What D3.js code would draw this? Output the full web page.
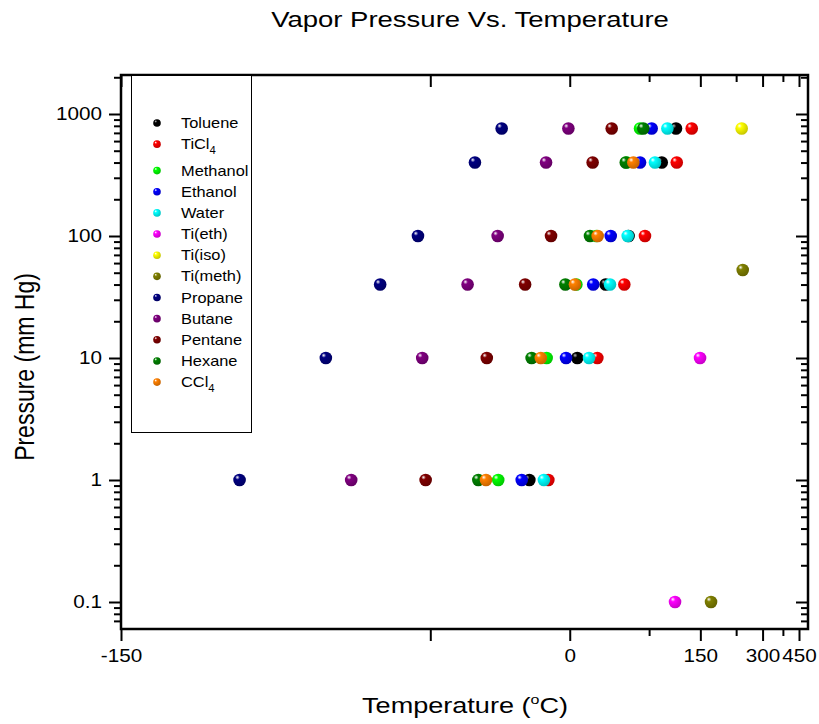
<!DOCTYPE html>
<html>
<head>
<meta charset="utf-8">
<script src="https://cdn.jsdelivr.net/npm/d3@7"></script>
<style>
  body { margin: 0; background: #fff; }
  text { font-family: "Liberation Sans", Arial, sans-serif; }
</style>
</head>
<body>
<div id="chart"></div>
<script>
// series, in legend / draw order
var seriesNames = ["Toluene", "TiCl4", "Methanol", "Ethanol", "Water", "Ti(eth)", "Ti(iso)",
  "Ti(meth)", "Propane", "Butane", "Pentane", "Hexane", "CCl4"];
var seriesColors = ["#000000", "#ff0000", "#00ff00", "#0000ff", "#00ffff", "#ff00ff", "#ffff00",
  "#808000", "#000080", "#800080", "#800000", "#008000", "#ff8000"];

// [temperature (C), pressure (mm Hg)]
var toluene  = [[-27.0, 1], [5.7, 10], [29.5, 40], [51.9, 100], [90.9, 400], [110.7, 760]];
var ticl4    = [[-15.0, 1], [22.1, 10], [47.5, 40], [70.1, 100], [111.8, 400], [135.2, 760]];
var methanol = [[-44.4, 1], [-16.1, 10], [5.0, 40], [21.2, 100], [49.9, 400], [64.4, 760]];
var ethanol  = [[-31.5, 1], [-2.7, 10], [18.6, 40], [34.2, 100], [64.4, 400], [78.1, 760]];
var water    = [[-17.9, 1], [15.1, 10], [33.5, 40], [51.0, 100], [82.2, 400], [98.5, 760]];
var tiEth    = [[109.3, 0.1], [149.5, 10]];
var tiIso    = [[239.0, 760]];
var tiMeth   = [[169.9, 0.1], [241.8, 52.6]];
var propane  = [[-129.1, 1], [-108.8, 10], [-92.8, 40], [-79.7, 100], [-55.9, 400], [-42.6, 760]];
var butane   = [[-101.7, 1], [-78.1, 10], [-59.3, 40], [-44.7, 100], [-16.5, 400], [-1.0, 760]];
var pentane  = [[-76.8, 1], [-50.2, 10], [-29.5, 40], [-13.2, 100], [18.1, 400], [35.1, 760]];
var hexane   = [[-54.3, 1], [-25.6, 10], [-3.2, 40], [15.9, 100], [49.0, 400], [68.1, 760]];
var ccl4     = [[-50.6, 1], [-19.9, 10], [3.9, 40], [22.4, 100], [57.0, 400]];

var seriesData = [toluene, ticl4, methanol, ethanol, water, tiEth, tiIso, tiMeth,
  propane, butane, pentane, hexane, ccl4];

var xMajor = [-150, -75, 0, 150, 300, 450];
var xLabels = ["-150", "", "0", "150", "300", "450"];
var xMinor = [75, 225, 375];
var yMajor = [0.1, 1, 10, 100, 1000];
var yLabels = ["0.1", "1", "10", "100", "1000"];

var svgWidth = 819;
var svgHeight = 724;
var frame = { left: 121, right: 808, top: 75, bottom: 629 };
var wide = 1.15; // text in the original is drawn a bit wider than tall

var svg = d3.select("#chart")
  .append("svg")
  .attr("width", svgWidth)
  .attr("height", svgHeight);

// offset reciprocal scale: position is linear in -1/(T + 273.15)
var recip = function(t) { return -1 / (t + 273.15); };
var xu = d3.scaleLinear()
  .domain([recip(-150), recip(450)])
  .range([121, 799]);
var x = function(t) { return xu(recip(t)); };

var y = d3.scaleLog()
  .domain([0.1, 1000])
  .range([602, 114]);

var yMinor = [];
[0.01, 0.1, 1, 10, 100, 1000].forEach(function(dec) {
  for (var k = 2; k <= 9; k++) {
    var v = dec * k;
    if (y(v) >= frame.top && y(v) <= frame.bottom) yMinor.push(v);
  }
});

// gradients for the shaded balls
var defs = svg.append("defs");
seriesColors.forEach(function(c, i) {
  var g = defs.append("radialGradient")
    .attr("id", "ball" + i)
    .attr("cx", "38%").attr("cy", "35%").attr("r", "65%")
    .attr("fx", "32%").attr("fy", "28%");
  var hi = c === "#000000" ? "#bbbbbb" : "#ffffff";
  g.append("stop").attr("offset", "0%").attr("stop-color", hi);
  g.append("stop").attr("offset", "28%").attr("stop-color", c);
  g.append("stop").attr("offset", "100%").attr("stop-color", d3.color(c).darker(0.7));
});

// axes
function styleAxis(g) {
  g.select(".domain").remove();
  g.selectAll(".tick line").attr("stroke", "#000").attr("stroke-width", 2);
  g.selectAll(".tick text").attr("fill", "#000").attr("font-size", "18px")
    .attr("font-family", "'Liberation Sans', Arial, sans-serif")
    .attr("transform", `scale(${wide},1)`);
}

svg.append("g")
  .attr("transform", `translate(0, ${frame.bottom})`)
  .call(d3.axisBottom(xu).tickValues(xMajor.map(recip)).tickSize(12).tickPadding(8)
    .tickFormat(function(d, i) { return xLabels[i]; }))
  .call(styleAxis);
svg.append("g")
  .attr("transform", `translate(0, ${frame.bottom})`)
  .call(d3.axisBottom(xu).tickValues(xMinor.map(recip)).tickSize(7).tickFormat(""))
  .call(styleAxis);
svg.append("g")
  .attr("transform", `translate(0, ${frame.top})`)
  .call(d3.axisBottom(xu).tickValues(xMajor.map(recip)).tickSize(12).tickFormat(""))
  .call(styleAxis);
svg.append("g")
  .attr("transform", `translate(0, ${frame.top})`)
  .call(d3.axisBottom(xu).tickValues(xMinor.map(recip)).tickSize(7).tickFormat(""))
  .call(styleAxis);

svg.append("g")
  .attr("transform", `translate(${frame.left}, 0)`)
  .call(d3.axisLeft(y).tickValues(yMajor).tickSize(12).tickPadding(7)
    .tickFormat(function(d, i) { return yLabels[i]; }))
  .call(styleAxis)
  .selectAll(".tick text").attr("x", -19 / wide);
svg.append("g")
  .attr("transform", `translate(${frame.left}, 0)`)
  .call(d3.axisLeft(y).tickValues(yMinor).tickSize(7).tickFormat(""))
  .call(styleAxis);
svg.append("g")
  .attr("transform", `translate(${frame.right}, 0)`)
  .call(d3.axisLeft(y).tickValues(yMajor).tickSize(12).tickFormat(""))
  .call(styleAxis);
svg.append("g")
  .attr("transform", `translate(${frame.right}, 0)`)
  .call(d3.axisLeft(y).tickValues(yMinor).tickSize(7).tickFormat(""))
  .call(styleAxis);

svg.append("rect")
  .attr("x", frame.left)
  .attr("y", frame.top)
  .attr("width", frame.right - frame.left)
  .attr("height", frame.bottom - frame.top)
  .attr("fill", "none")
  .attr("stroke", "#000")
  .attr("stroke-width", 2.5);

// points
seriesData.forEach(function(pts, i) {
  svg.append("g").selectAll("circle")
    .data(pts)
    .enter()
    .append("circle")
    .attr("cx", d => x(d[0]))
    .attr("cy", d => y(d[1]))
    .attr("r", 6.3)
    .attr("fill", "url(#ball" + i + ")");
});

// legend
var legend = svg.append("g");
legend.append("rect")
  .attr("x", 131.5).attr("y", 75.5)
  .attr("width", 120).attr("height", 357)
  .attr("fill", "#fff")
  .attr("stroke", "#000")
  .attr("stroke-width", 1);

seriesNames.forEach(function(name, i) {
  var ly = 124 + i * 21.15 + (i >= 2 ? 4.3 : -1);
  legend.append("circle")
    .attr("cx", 157).attr("cy", ly).attr("r", 3.8)
    .attr("fill", "url(#ball" + i + ")");
  var t = legend.append("text")
    .attr("transform", `translate(181, ${ly + 5}) scale(1.13,1)`)
    .attr("font-size", "14.5px")
    .attr("fill", "#000");
  var m = name.match(/^(.*?)(\d)$/);
  if (m) {
    t.append("tspan").text(m[1]);
    t.append("tspan").attr("dy", 5).attr("font-size", "10px").text(m[2]);
  } else {
    t.text(name);
  }
});

// titles
svg.append("text")
  .attr("transform", "translate(470, 27) scale(1.25,1)")
  .attr("text-anchor", "middle")
  .attr("font-size", "22px")
  .text("Vapor Pressure Vs. Temperature");

svg.append("text")
  .attr("transform", "translate(34, 367) scale(1.22,1) rotate(-90)")
  .attr("text-anchor", "middle")
  .attr("font-size", "23px")
  .text("Pressure (mm Hg)");

var xl = svg.append("text")
  .attr("transform", "translate(465, 713) scale(1.23,1)")
  .attr("text-anchor", "middle")
  .attr("font-size", "22px");
xl.append("tspan").text("Temperature (");
xl.append("tspan").attr("dy", -9).attr("font-size", "13px").text("o");
xl.append("tspan").attr("dy", 9).text("C)");
</script>
</body>
</html>
